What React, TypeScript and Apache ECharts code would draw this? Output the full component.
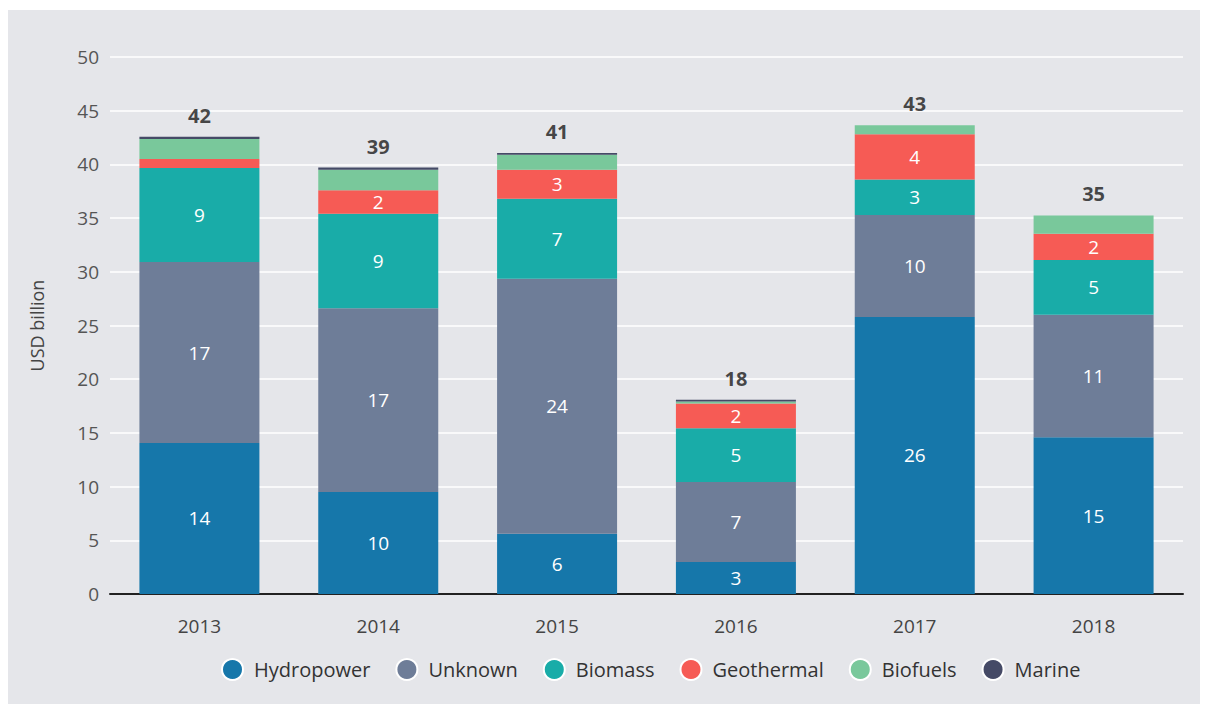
import React, { useEffect, useRef } from "react";
import * as echarts from "echarts";

const years = ["2013", "2014", "2015", "2016", "2017", "2018"];
const hydropower = [14.06, 9.5, 5.6, 2.98, 25.8, 14.6];
const unknown = [16.85, 17.1, 23.75, 7.45, 9.5, 11.4];
const biomass = [8.76, 8.8, 7.45, 5.0, 3.3, 5.1];
const geothermal = [0.84, 2.2, 2.7, 2.3, 4.2, 2.45];
const biofuels = [1.86, 1.9, 1.4, 0.2, 0.85, 1.7];
const marine = [0.2, 0.2, 0.15, 0.15, 0, 0];
const totals = [42, 39, 41, 18, 43, 35];
const yTicks = [0, 5, 10, 15, 20, 25, 30, 35, 40, 45, 50];

const FONT = "'Open Sans', 'Noto Sans', sans-serif";

export default function App() {
  const ref = useRef<HTMLDivElement>(null);
  useEffect(() => {
    if (!ref.current) return;
    const chart = echarts.init(ref.current, undefined, { renderer: "svg" });
    const mk = (name: string, data: number[], color: string, labelled: boolean) => ({
      name,
      type: "bar",
      stack: "total",
      data,
      barWidth: 120,
      itemStyle: { color },
      label: {
        show: labelled,
        position: "inside",
        color: "#ffffff",
        fontSize: 19,
        fontFamily: FONT,
        formatter: (p: any) => (p.value >= 1.5 ? String(Math.round(p.value)) : ""),
      },
    });
    const sums = years.map(
      (_, i) => hydropower[i] + unknown[i] + biomass[i] + geothermal[i] + biofuels[i] + marine[i]
    );
    chart.setOption({
      animation: false,
      backgroundColor: "transparent",
      textStyle: { fontFamily: FONT },
      grid: { left: 102, right: 17, top: 47, bottom: 110 },
      legend: {
        bottom: 18,
        left: 208,
        icon: "circle",
        itemWidth: 21,
        itemHeight: 21,
        itemGap: 25,
        data: ["Hydropower", "Unknown", "Biomass", "Geothermal", "Biofuels", "Marine"],
        itemStyle: { borderColor: "#ffffff", borderWidth: 2 },
        textStyle: { fontSize: 20, color: "#333333", fontFamily: FONT, padding: [0, 0, 0, 6] },
      },
      xAxis: {
        type: "category",
        data: years,
        axisLine: { show: true, lineStyle: { color: "#222222", width: 2 } },
        axisTick: { show: false },
        axisLabel: { fontSize: 19, color: "#444444", margin: 22, fontFamily: FONT },
      },
      yAxis: {
        type: "value",
        min: 0,
        max: 50,
        interval: 5,
        name: "USD billion",
        nameLocation: "middle",
        nameGap: 64,
        nameTextStyle: { fontSize: 18, color: "#444444", fontFamily: FONT },
        axisLine: { show: false },
        axisTick: { show: false },
        splitLine: { lineStyle: { color: "#ffffff", width: 1.5 } },
        axisLabel: {
          fontSize: 19,
          color: "#555555",
          margin: 11,
          fontFamily: FONT,
          formatter: (v: number) => (yTicks.includes(v) ? String(v) : ""),
        },
      },
      series: [
        mk("Hydropower", hydropower, "#1677aa", true),
        mk("Unknown", unknown, "#6e7d98", true),
        mk("Biomass", biomass, "#19aca8", true),
        mk("Geothermal", geothermal, "#f65b55", true),
        mk("Biofuels", biofuels, "#79c89b", false),
        mk("Marine", marine, "#454a66", false),
        {
          name: "Total",
          type: "scatter",
          data: sums.map((s, i) => [years[i], s]),
          symbolSize: 1,
          itemStyle: { color: "rgba(0,0,0,0)" },
          label: {
            show: true,
            position: "top",
            distance: 11,
            color: "#1a1a1a",
            fontWeight: "bold",
            fontSize: 20,
            fontFamily: FONT,
            formatter: (p: any) => String(totals[p.dataIndex]),
          },
          tooltip: { show: false },
        },
      ],
    });
    return () => chart.dispose();
  }, []);
  return (
    <div
      ref={ref}
      style={{ width: 1192, height: 694, marginTop: 2, background: "#e5e6ea" }}
    />
  );
}
